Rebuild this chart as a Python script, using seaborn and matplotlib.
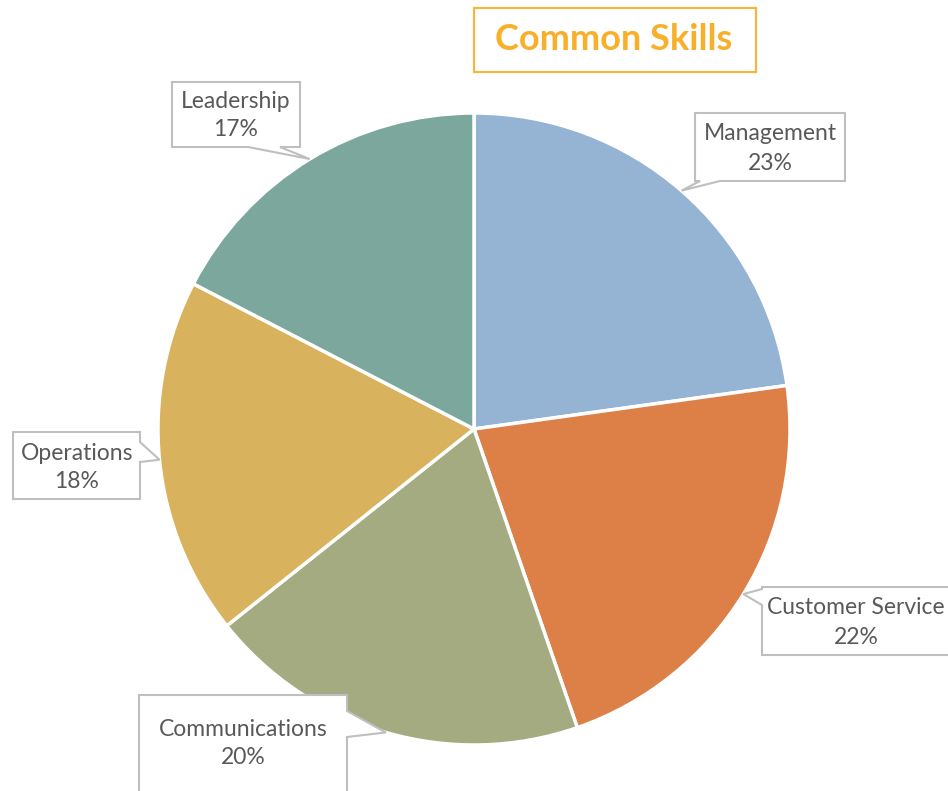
import matplotlib
matplotlib.use("Agg")
import matplotlib.pyplot as plt
from matplotlib.patches import Polygon, Rectangle
import numpy as np
import seaborn as sns

# ---- data ----
skills = ["Management", "Customer Service", "Communications", "Operations", "Leadership"]
shares = [22.8, 21.9, 19.6, 18.3, 17.4]
slice_colors = ["#95B3D3", "#DD8047", "#A5AB81", "#D8B25C", "#7BA79D"]
title = "Common Skills"

# ---- layout (pixel coordinates, y down) ----
W, H = 948, 791
CX, CY, R = 474, 429, 316
# label boxes: (left, top, right, bottom), pointer side, pointer base (a, b), text centre
boxes = {
    "Management": ((695, 113, 845, 181), "bottom", (700, 720), (770, 133, 163)),
    "Customer Service": ((762, 587, 960, 655), "left", (589, 605), (856, 608, 637)),
    "Communications": ((139, 695, 347, 810), "right", (711, 737), (243, 729, 758)),
    "Operations": ((13, 432, 140, 499), "right", (442, 462), (77, 453, 482)),
    "Leadership": ((172, 82, 300, 147), "bottom", (248, 280), (236, 101, 130)),
}

sns.set_theme(style="white")
plt.rcParams["font.family"] = ["Lato", "DejaVu Sans"]

fig = plt.figure(figsize=(W / 100, H / 100), dpi=100)
ax = fig.add_axes([0, 0, 1, 1])


def P(x, y):
    return (x, H - y)


wedges, _ = ax.pie(shares, colors=slice_colors, startangle=90, counterclock=False,
                   center=P(CX, CY), radius=R,
                   wedgeprops=dict(edgecolor="white", linewidth=2.5))
ax.set_xlim(0, W)
ax.set_ylim(0, H)
ax.set_aspect("equal")
ax.axis("off")

total = sum(shares)
for name, val, w in zip(skills, shares, wedges):
    (l, t, r, b), side, (a1, a2), (tx, ty1, ty2) = boxes[name]
    mid = np.deg2rad((w.theta1 + w.theta2) / 2)
    tip = (w.center[0] + w.r * np.cos(mid), w.center[1] + w.r * np.sin(mid))
    if side == "bottom":
        pts = [P(l, t), P(r, t), P(r, b), P(a2, b), tip, P(a1, b), P(l, b)]
    elif side == "right":
        pts = [P(l, t), P(r, t), P(r, a1), tip, P(r, a2), P(r, b), P(l, b)]
    else:  # left
        pts = [P(l, t), P(r, t), P(r, b), P(l, b), P(l, a2), tip, P(l, a1)]
    ax.add_patch(Polygon(pts, closed=True, facecolor="white", edgecolor="#BFBFBF",
                         linewidth=1.5, zorder=3, joinstyle="miter"))
    ax.text(*P(tx, ty1), name, ha="center", va="center", fontsize=16.5,
            color="#595959", zorder=4)
    ax.text(*P(tx, ty2), f"{round(val / total * 100)}%", ha="center", va="center",
            fontsize=16.5, color="#595959", zorder=4)

# title box
ax.add_patch(Rectangle(P(474, 72), 282, 64, facecolor="white", edgecolor="#F8B535",
                       linewidth=1.5, zorder=3))
ax.text(*P(614, 40), title, ha="center", va="center", fontsize=26, fontweight="bold",
        color="#F8B02A", zorder=4)

fig.savefig("out.png", dpi=100, facecolor="white")
